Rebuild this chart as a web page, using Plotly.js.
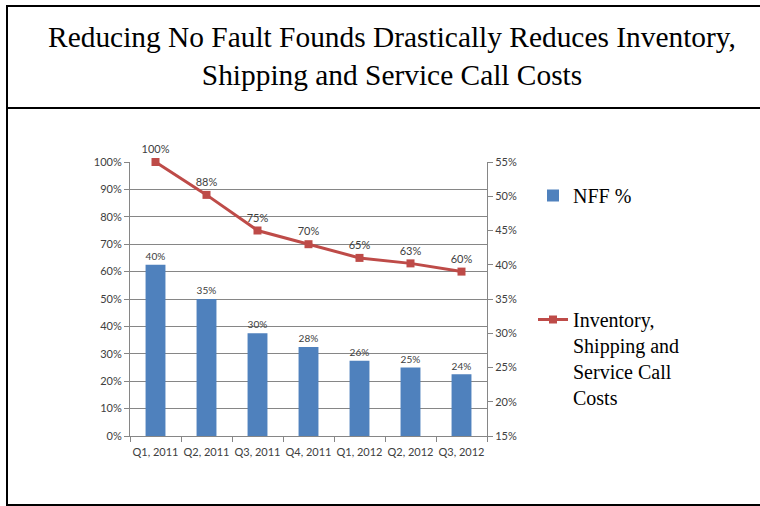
<!DOCTYPE html>
<html>
<head>
<meta charset="utf-8">
<script src="https://cdn.plot.ly/plotly-3.0.1.min.js"></script>
<style>
  html, body { margin: 0; padding: 0; background: #fff; }
  #chart { width: 760px; height: 506px; }
</style>
</head>
<body>
<div id="chart"></div>
<script>
// ---- data ----
const categories = ["Q1, 2011", "Q2, 2011", "Q3, 2011", "Q4, 2011", "Q1, 2012", "Q2, 2012", "Q3, 2012"];
const nffPct = [0.40, 0.35, 0.30, 0.28, 0.26, 0.25, 0.24];
const costPct = [1.00, 0.88, 0.75, 0.70, 0.65, 0.63, 0.60];
const nffName = "NFF %";
const costName = "Inventory,<br>Shipping and<br>Service Call<br>Costs";
const titleText = "Reducing No Fault Founds Drastically Reduces Inventory,<br>Shipping and Service Call Costs";

const pct = v => Math.round(v * 100) + "%";
const tickFont = { family: "Lato", size: 11, color: "#404040" };
const serif = "Liberation Serif";

const traces = [
  {
    type: "bar",
    name: nffName,
    x: categories,
    y: nffPct,
    yaxis: "y2",
    marker: { color: "#4F81BD" },
    width: 0.39,
    text: nffPct.map(pct),
    textposition: "outside",
    textfont: tickFont,
    cliponaxis: false,
    legendgroup: "a",
    hoverinfo: "skip"
  },
  {
    type: "scatter",
    mode: "lines+markers+text",
    name: costName,
    x: categories,
    y: costPct,
    yaxis: "y",
    line: { color: "#BE4B48", width: 3 },
    marker: { symbol: "square", size: 8, color: "#BE4B48" },
    text: costPct.map(pct),
    textposition: "top center",
    textfont: tickFont,
    cliponaxis: false,
    legendgroup: "b",
    hoverinfo: "skip"
  }
];

// Plot area in pixels: x 130..487, y 162..436
const L = 130, R = 487, T = 162, B = 436;
const px = v => (v - L) / (R - L);
const py = v => (B - v) / (B - T);

const layout = {
  width: 760,
  height: 506,
  margin: { l: L, r: 760 - R, t: T, b: 506 - B, pad: 0 },
  paper_bgcolor: "#ffffff",
  plot_bgcolor: "rgba(0,0,0,0)",
  font: { family: serif, color: "#000" },
  title: {
    text: titleText,
    font: { family: serif, size: 29.4, color: "#000" },
    x: 392 / 760, xref: "container", xanchor: "center",
    y: 1 - 47 / 506, yref: "container", yanchor: "middle"
  },
  showlegend: true,
  legend: {
    x: px(533), y: py(176), xanchor: "left", yanchor: "top",
    font: { family: serif, size: 20, color: "#000" },
    traceorder: "grouped",
    tracegroupgap: 95,
    valign: "top",
    bgcolor: "rgba(0,0,0,0)",
    itemwidth: 30
  },
  xaxis: {
    type: "category",
    tickfont: tickFont,
    tickangle: 0,
    ticklabelstandoff: 6,
    showline: true, linecolor: "#868686", linewidth: 1,
    ticks: "outside", tickson: "boundaries", ticklen: 5, tickcolor: "#868686",
    showgrid: false, zeroline: false, fixedrange: true
  },
  yaxis: {
    range: [0, 1],
    dtick: 0.1,
    tickformat: ".0%",
    tickfont: tickFont,
    showline: true, linecolor: "#868686", linewidth: 1,
    ticks: "outside", ticklen: 5, tickcolor: "#868686",
    showgrid: true, gridcolor: "#868686", gridwidth: 1,
    zeroline: false, fixedrange: true
  },
  yaxis2: {
    range: [0.15, 0.55],
    dtick: 0.05,
    tickformat: ".0%",
    tickfont: tickFont,
    overlaying: "y",
    side: "right",
    showline: true, linecolor: "#868686", linewidth: 1,
    ticks: "outside", ticklen: 5, tickcolor: "#868686",
    showgrid: false, zeroline: false, fixedrange: true
  },
  bargap: 0.6,
  shapes: [
    {
      type: "rect", xref: "paper", yref: "paper", layer: "above",
      x0: px(7), x1: px(775), y0: py(505), y1: py(6),
      line: { color: "#000", width: 2 }, fillcolor: "rgba(0,0,0,0)"
    },
    {
      type: "line", xref: "paper", yref: "paper", layer: "above",
      x0: px(7), x1: px(775), y0: py(108), y1: py(108),
      line: { color: "#000", width: 2 }
    }
  ]
};

Plotly.newPlot("chart", traces, layout, { displayModeBar: false, staticPlot: true });
</script>
</body>
</html>
